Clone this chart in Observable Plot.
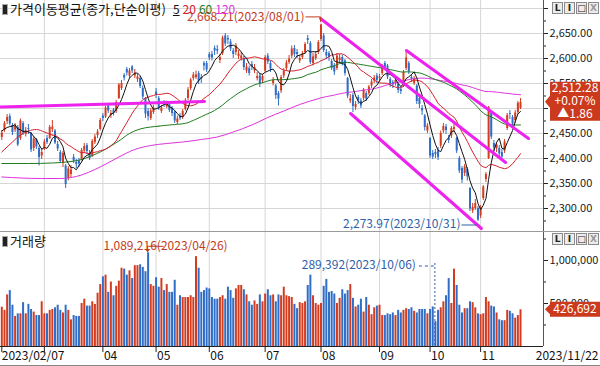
<!DOCTYPE html>
<html>
<head>
<meta charset="utf-8">
<script src="https://cdn.jsdelivr.net/npm/d3@7"></script>
<script src="https://cdn.jsdelivr.net/npm/@observablehq/plot@0.6"></script>
<style>
html,body{margin:0;padding:0;background:#fff;}
#chart{position:relative;width:600px;height:366px;overflow:hidden;background:#fff;font-family:"Noto Sans CJK KR","Noto Sans",sans-serif;font-size:12px;color:#111;}
#chart svg{position:absolute;left:0;overflow:visible;}
.title{position:absolute;left:2px;white-space:nowrap;line-height:16px;font-size:13px;}
.icon{display:inline-block;width:4px;height:9px;background:#222;border:1px solid #aaa;margin-right:2px;vertical-align:-1px;}
.btns{position:absolute;left:552px;display:flex;gap:1px;background:#fff;}
.btns span{display:block;width:9px;height:10px;border:1px solid #8a8a8a;background:#ececec;font:bold 9px/10px "DejaVu Sans",sans-serif;text-align:center;color:#222;}
.line{position:absolute;}
</style>
</head>
<body>
<div id="chart"></div>
<script>
// ---------------- data (KOSPI daily, 2023/02/07 – 2023/11/22) ----------------
const opens = [
2442,2456,2474,2484,2466,2457,2462,2440,2470,2448,2460,2450,2420,2438,2420,2405,
2420,2440,2440,2458,2455,2428,2412,2390,2385,2360,2368,2402,2392,2395,2398,2415,2426,2410,2405,2432,2446,2458,
2485,2483,2505,2486,2497,2494,2520,2540,2566,2578,2565,2583,2565,2558,2560,2540,2520,2494,2480,2492,
2533,2520,2494,2512,2503,2508,2500,2492,2472,2485,2482,2498,2520,2540,2560,2562,2570,2562,2590,2590,
2608,2608,2620,2618,2596,2610,2645,2640,2633,2615,2612,2604,2600,2600,2575,2580,2588,2575,2560,2565,2555,
2575,2605,2590,2550,2545,2530,2535,2565,2580,2592,2605,2620,2612,2595,2602,2612,2640,2630,2590,2600,2612,
2638,2645,2612,2610,2594,2585,2580,2596,2602,2595,2560,2515,2526,2502,2522,2515,2520,2530,2530,2545,2555,2565,
2560,2570,2590,2585,2558,2552,2550,2548,2538,2545,2580,2590,2562,2550,2545,2520,2500,2485,2455,
2440,2410,2412,2415,2425,2455,2463,2440,2445,2458,2440,2400,2380,2370,2378,2340,2295,2300,2300,
2285,2320,2358,2400,2490,2430,2420,2420,2412,2415,2460,2490,2482,2476,2492,2500];
const highs = [
2456,2474,2488,2489,2470,2470,2466,2479,2474,2462,2468,2452,2444,2440,2424,2418,
2438,2446,2466,2476,2458,2434,2416,2414,2388,2384,2386,2408,2398,2400,2420,2430,2430,2416,2438,2448,2458,2480,
2490,2505,2510,2496,2500,2516,2550,2556,2570,2582,2580,2586,2578,2568,2564,2545,2522,2500,2500,2506,
2540,2524,2506,2516,2515,2512,2504,2496,2485,2490,2498,2520,2542,2560,2572,2575,2574,2568,2594,2594,
2612,2614,2625,2626,2608,2645,2650,2646,2638,2620,2630,2616,2612,2604,2590,2585,2594,2588,2572,2570,2568,
2606,2610,2595,2562,2548,2534,2566,2580,2596,2606,2625,2626,2618,2606,2614,2632,2646,2634,2610,2614,2636,
2668.21,2650,2618,2614,2598,2590,2610,2608,2606,2598,2562,2528,2530,2514,2526,2520,2540,2534,2546,2558,2566,2570,
2568,2588,2594,2588,2562,2556,2562,2552,2544,2576,2612,2594,2568,2564,2548,2526,2506,2488,2470,
2442,2416,2418,2422,2455,2470,2468,2446,2464,2468,2442,2404,2384,2388,2382,2342,2310,2318,2304,
2306,2346,2372,2504,2495,2436,2432,2426,2418,2438,2490,2496,2486,2496,2514,2520];
const lows = [
2436,2452,2468,2465,2446,2452,2424,2436,2446,2443,2448,2412,2414,2418,2385,2398,
2416,2428,2438,2452,2428,2414,2390,2382,2340,2355,2362,2390,2380,2382,2395,2410,2408,2396,2402,2428,2440,2455,
2474,2480,2490,2480,2485,2490,2518,2536,2555,2565,2560,2570,2560,2552,2540,2518,2480,2475,2476,2488,
2520,2496,2490,2502,2500,2492,2484,2470,2468,2476,2478,2495,2516,2536,2555,2558,2548,2550,2575,2572,
2596,2595,2606,2608,2590,2606,2624,2628,2614,2600,2606,2598,2595,2576,2570,2565,2576,2570,2555,2542,2550,
2572,2588,2572,2545,2518,2505,2530,2560,2575,2588,2600,2602,2600,2590,2598,2608,2628,2588,2585,2596,2608,
2634,2612,2598,2594,2576,2566,2576,2590,2585,2565,2520,2510,2492,2496,2508,2500,2515,2514,2526,2540,2550,2550,
2554,2566,2576,2558,2542,2540,2545,2530,2528,2542,2576,2568,2552,2546,2508,2500,2486,2455,2450,
2400,2398,2400,2396,2420,2450,2448,2430,2440,2452,2410,2370,2350,2364,2355,2294,2290,2296,2273.97,
2280,2316,2352,2398,2438,2414,2412,2402,2398,2410,2456,2478,2464,2470,2488,2498];
const closes = [
2451,2470,2482,2469,2452,2465,2427,2475,2451,2455,2458,2417,2439,2423,2402,2412,
2433,2432,2462,2463,2431,2419,2394,2410,2348,2379,2377,2395,2388,2389,2416,2424,2414,2400,2434,2443,2453,2476,
2480,2501,2495,2490,2490,2512,2547,2550,2561,2571,2575,2575,2571,2563,2544,2523,2489,2484,2495,2501,
2528,2500,2501,2509,2510,2496,2490,2475,2479,2480,2494,2515,2537,2557,2567,2567,2554,2559,2585,2577,
2601,2601,2615,2615,2602,2641,2629,2637,2619,2608,2625,2609,2605,2582,2583,2570,2582,2582,2564,2550,2564,
2602,2593,2579,2556,2526,2519,2562,2574,2591,2599,2619,2608,2608,2600,2609,2628,2636,2592,2603,2608,2632,
2667,2616,2605,2602,2580,2573,2605,2601,2591,2570,2525,2519,2504,2508,2516,2505,2537,2519,2543,2553,2561,2556,
2563,2584,2582,2563,2548,2547,2556,2536,2534,2572,2601,2574,2559,2559,2514,2508,2495,2462,2465,
2405,2403,2408,2402,2450,2464,2456,2436,2460,2462,2415,2375,2357,2383,2363,2299,2302,2310,2277,
2301,2343,2368,2502,2443,2421,2427,2409,2403,2433,2486,2488,2469,2491,2510.42,2512.28];
// volume, thousands of shares
const volumeK = [
457,420,600,650,480,350,380,380,510,380,490,430,400,360,360,520,
380,380,420,430,450,480,420,390,480,420,310,360,350,350,500,550,470,470,520,490,620,720,
810,830,630,750,590,700,760,910,900,830,880,790,940,940,950,920,870,1089.216,720,700,
800,690,790,650,720,630,630,770,480,590,570,570,570,590,570,1045,910,630,650,680,
670,570,550,550,570,590,550,690,650,560,670,710,710,660,600,520,480,530,490,600,520,
610,660,590,600,520,600,590,690,590,580,570,490,440,510,500,520,710,830,590,500,480,
500,700,780,630,640,610,500,560,660,610,650,720,560,460,480,550,400,570,480,370,450,470,
480,360,360,380,370,390,360,420,390,420,440,430,450,410,390,430,430,430,380,
430,460,289.392,420,450,520,590,790,500,900,710,480,390,440,440,520,510,450,380,
370,380,570,520,470,460,390,310,300,300,420,410,380,330,360,426.692];
// moving averages whose windows reach back before 2023/02/07: [bar index, value]
const ma5Head = [[0,2455],[2,2462],[4,2464.8]];
const ma20Head = [[0,2413],[4,2433],[7,2447],[10,2455],[13,2458],[16,2453],[19,2446.9]];
const ma60Head = [[0,2390],[10,2390],[19,2391],[26,2394],[30,2398],[34,2406],[37,2413],[41,2425],[44,2435],[48,2450],[52,2459],[56,2463],[59,2464.6]];
const ma120Head = [[0,2363],[15,2360],[22,2360],[28,2364],[37,2383],[44,2403],[50,2418],[56,2426],[62,2430],[68,2433],[75,2438],[81,2443],[87,2453],[94,2467],[100,2482],[106,2495],[112,2508],[119,2519.6]];
const maPeriods = [5, 20, 60, 120];
// trend lines drawn on the chart: [bar index, price]
const trendLines = [
  [[-0.5, 2503], [76.2, 2514]],
  [[119.8, 2680], [189.4, 2392]],
  [[152.1, 2616], [198, 2440]],
  [[131.1, 2490], [180.3, 2260]]
];
const prevClose = 2510.42;
const monthStartIdx = [16, 38, 58, 78, 99, 120, 142, 161, 180];
const monthNames = ["03", "04", "05", "06", "07", "08", "09", "10", "11"];
const firstDate = "2023/02/07", lastDate = "2023/11/22";
const maxPriceDate = "2023/08/01", minPriceDate = "2023/10/31";
const maxVolDate = "2023/04/26", minVolDate = "2023/10/06";
const priceGrid = [2300, 2350, 2400, 2450, 2500, 2550, 2600, 2650, 2700];
const priceLabels = [2300, 2350, 2400, 2450, 2550, 2600, 2650];
const priceMinor = [2275, 2325, 2375, 2425, 2475, 2525, 2575, 2625, 2675];
const volTicks = [500000, 1000000];
const volMinor = [250000, 750000, 1250000];

// ---------------- styles ----------------
const FONT = '"Noto Sans CJK KR","Noto Sans",sans-serif';
const RED = "#d43c20", BLUE = "#2f6dc6", GRID = "#d6d6d6";
const MA_COLORS = ["#111111", "#d6202c", "#1d7b1d", "#dd33dd"];
const TREND = "#ee22ee";
const X_DOMAIN = [-0.49, 203.64];

const candles = closes.map((c, i) => ({i, open: opens[i], high: highs[i], low: lows[i], close: c, vol: volumeK[i] * 1000}));
const upC = candles.filter(d => d.close >= d.open), dnC = candles.filter(d => d.close < d.open);

const root = document.getElementById("chart");

function maMarks(k, head, color) {
  return [
    Plot.line(head, {x: d => d[0], y: d => d[1], curve: "monotone-x", stroke: color, strokeWidth: 1}),
    Plot.line(candles, Plot.windowY({k, anchor: "end", strict: true, reduce: "mean"}, {x: "i", y: "close", stroke: color, strokeWidth: 1}))
  ];
}

const price = Plot.plot({
  width: 600, height: 232, marginLeft: 0, marginRight: 57, marginTop: 0, marginBottom: 0,
  style: {fontFamily: FONT, fontSize: "11px", background: "transparent", color: "#222", overflow: "visible"},
  x: {domain: X_DOMAIN, axis: null},
  y: {domain: [2252, 2716], axis: null},
  marks: [
    Plot.ruleX(monthStartIdx, {stroke: GRID}),
    Plot.ruleY(priceGrid, {stroke: GRID}),
    Plot.ruleX(upC, {x: "i", y1: "low", y2: "high", stroke: RED, strokeWidth: 1}),
    Plot.ruleX(dnC, {x: "i", y1: "low", y2: "high", stroke: BLUE, strokeWidth: 1}),
    Plot.ruleX(upC, {x: "i", y1: "open", y2: "close", stroke: RED, strokeWidth: 2}),
    Plot.ruleX(dnC, {x: "i", y1: "open", y2: "close", stroke: BLUE, strokeWidth: 2}),
    ...maMarks(120, ma120Head, MA_COLORS[3]),
    ...maMarks(60, ma60Head, MA_COLORS[2]),
    ...maMarks(20, ma20Head, MA_COLORS[1]),
    ...maMarks(5, ma5Head, MA_COLORS[0]),
    ...trendLines.map(seg => Plot.line(seg, {x: d => d[0], y: d => d[1], stroke: TREND, strokeWidth: 3})),
    Plot.axisY({anchor: "right", ticks: priceMinor, tickSize: 2, tickFormat: () => "", label: null}),
    Plot.axisY({anchor: "right", ticks: [2500, 2700], tickSize: 4, tickFormat: () => "", label: null}),
    Plot.axisY({anchor: "right", ticks: priceLabels, tickSize: 4, tickPadding: 2, tickFormat: d3.format(",.2f"), label: null, fill: "#222", fontSize: 11})
  ]
});
price.style.top = "0px";
root.appendChild(price);

const volume = Plot.plot({
  width: 600, height: 134, marginLeft: 0, marginRight: 57, marginTop: 0, marginBottom: 20,
  style: {fontFamily: FONT, fontSize: "12px", background: "transparent", color: "#222", overflow: "visible"},
  x: {domain: X_DOMAIN, axis: null},
  y: {domain: [0, 1325581], axis: null},
  marks: [
    Plot.ruleX(monthStartIdx, {stroke: GRID}),
    Plot.ruleX(upC, {x: "i", y1: 0, y2: "vol", stroke: RED, strokeWidth: 2}),
    Plot.ruleX(dnC, {x: "i", y1: 0, y2: "vol", stroke: BLUE, strokeWidth: 2}),
    Plot.ruleY([0], {stroke: "#222"}),
    Plot.axisY({anchor: "right", ticks: volMinor, tickSize: 2, tickFormat: () => "", label: null}),
    Plot.axisY({anchor: "right", ticks: volTicks, tickSize: 4, tickPadding: 2, tickFormat: d3.format(","), label: null, fill: "#222", fontSize: 11}),
    Plot.axisX({anchor: "bottom", ticks: [0, ...monthStartIdx], tickSize: 6, tickFormat: () => "", label: null}),
    Plot.text(monthStartIdx.slice(1), {x: d => d, text: (d, i) => monthNames[i + 1], frameAnchor: "bottom", textAnchor: "start", lineAnchor: "middle", dx: 1, dy: 10, fill: "#111"}),
    Plot.text([firstDate], {x: 0, text: d => d, frameAnchor: "bottom", textAnchor: "start", lineAnchor: "middle", dx: 0, dy: 10, fill: "#111"}),
    Plot.text([lastDate], {text: d => d, frameAnchor: "bottom-right", textAnchor: "end", lineAnchor: "middle", dx: 55, dy: 10, fill: "#111"})
  ]
});
volume.style.top = "232px";
root.appendChild(volume);

// ---------------- annotations through the charts' scales ----------------
function lin(chart, name) { const s = chart.scale(name); return d3.scaleLinear(s.domain, s.range); }
const px = lin(price, "x"), py = lin(price, "y"), vx = lin(volume, "x"), vy = lin(volume, "y");
const fmt2 = d3.format(",.2f"), fmtInt = d3.format(",");
const ANN_RED = "#c23b22", ANN_BLUE = "#2f5faa", BOX = "#cc3a1e";

const pg = d3.select(price).append("g").attr("font-family", FONT).attr("font-size", 12);
const iMax = d3.maxIndex(highs), iMin = d3.minIndex(lows);
{
  const X = px(iMax), Y = py(highs[iMax]);
  pg.append("text").attr("x", X - 16).attr("y", Y - 6).attr("text-anchor", "end").attr("dominant-baseline", "middle")
    .attr("fill", ANN_RED).text(`${fmt2(highs[iMax])}(${maxPriceDate})`);
  pg.append("path").attr("d", `M${X - 15},${Y - 7}H${X}V${Y - 2}`).attr("stroke", ANN_RED).attr("fill", "none");
}
{
  const X = px(iMin), Y = py(lows[iMin]);
  pg.append("text").attr("x", X - 17).attr("y", Y + 4).attr("text-anchor", "end").attr("dominant-baseline", "middle")
    .attr("fill", ANN_BLUE).text(`${fmt2(lows[iMin])}(${minPriceDate})`);
  pg.append("path").attr("d", `M${X - 16},${Y + 4}H${X - 1}`).attr("stroke", ANN_BLUE).attr("fill", "none");
}
{
  const last = closes[closes.length - 1], yC = py(last), ch = last - prevClose;
  pg.append("path").attr("d", `M545,${yC}L550,${yC - 6}L550,${yC - 20}L600,${yC - 20}L600,${yC + 19}L550,${yC + 19}L550,${yC + 6}Z`).attr("fill", BOX);
  const lines = [fmt2(last), (ch >= 0 ? "+" : "") + (ch / prevClose * 100).toFixed(2) + "%", (ch >= 0 ? "▲" : "▼") + ch.toFixed(2)];
  lines.forEach((t, k) => pg.append("text").attr("x", 575).attr("y", yC - 13 + 13 * k).attr("text-anchor", "middle")
    .attr("dominant-baseline", "middle").attr("fill", "#fff").text(t));
}
const vg = d3.select(volume).append("g").attr("font-family", FONT).attr("font-size", 12);
{
  const vols = candles.map(d => d.vol);
  const iV = d3.maxIndex(vols), X = vx(iV), Y = vy(vols[iV]);
  vg.append("text").attr("x", X + 18).attr("y", Y - 6).attr("dominant-baseline", "middle").attr("fill", ANN_RED)
    .text(`${fmtInt(vols[iV])}(${maxVolDate})`);
  vg.append("path").attr("d", `M${X + 16},${Y - 6}H${X}V${Y - 1}`).attr("stroke", ANN_RED).attr("fill", "none");
  vg.append("path").attr("d", `M${X - 2.5},${Y - 3}L${X + 2.5},${Y - 3}L${X},${Y}Z`).attr("fill", ANN_RED);
  const jV = d3.minIndex(vols), X2 = vx(jV), LY = 34;
  vg.append("text").attr("x", X2 - 19).attr("y", LY).attr("text-anchor", "end").attr("dominant-baseline", "middle").attr("fill", ANN_BLUE)
    .text(`${fmtInt(vols[jV])}(${minVolDate})`);
  vg.append("path").attr("d", `M${X2 - 16},${LY}H${X2}`).attr("stroke", ANN_BLUE).attr("stroke-dasharray", "3,3").attr("fill", "none");
  vg.append("path").attr("d", `M${X2},${LY - 3}V${vy(0)}`).attr("stroke", ANN_BLUE).attr("stroke-dasharray", "2,2").attr("fill", "none");
  const lv = vols[vols.length - 1], yV = vy(lv);
  vg.append("path").attr("d", `M545,${yV}L550,${yV - 5}L550,${yV - 7.5}L600,${yV - 7.5}L600,${yV + 7.5}L550,${yV + 7.5}L550,${yV + 5}Z`).attr("fill", BOX);
  vg.append("text").attr("x", 575).attr("y", yV).attr("text-anchor", "middle").attr("dominant-baseline", "middle").attr("fill", "#fff").text(fmtInt(lv));
}

// ---------------- frame, titles, buttons ----------------
function addLine(l, t, w, h, c) { const d = document.createElement("div"); d.className = "line"; Object.assign(d.style, {left: l + "px", top: t + "px", width: w + "px", height: h + "px", background: c}); root.appendChild(d); }
addLine(543, 0, 1, 346, "#555");
addLine(0, 231, 600, 1, "#9a9a9a");
addLine(0, 365, 600, 1, "#888");

function addTitle(top, html) { const d = document.createElement("div"); d.className = "title"; d.style.top = top + "px"; d.innerHTML = html; root.appendChild(d); }
const maLabel = maPeriods.map((p, k) => `<span style="color:${MA_COLORS[k]};${k === 0 ? "text-decoration:underline;" : ""}margin-left:${k === 0 ? 7 : 3}px;font-size:12px">${p}</span>`).join("");
addTitle(1, `<span class="icon"></span>가격이동평균(종가,단순이평)${maLabel}`);
addTitle(233, `<span class="icon"></span>거래량`);
function addBtns(top) { const d = document.createElement("div"); d.className = "btns"; d.style.top = top + "px";
  d.innerHTML = `<span>L</span><span>I</span><span>&#9633;</span><span style="color:#999">X</span>`; root.appendChild(d); }
addBtns(2); addBtns(233);
</script>
</body>
</html>
